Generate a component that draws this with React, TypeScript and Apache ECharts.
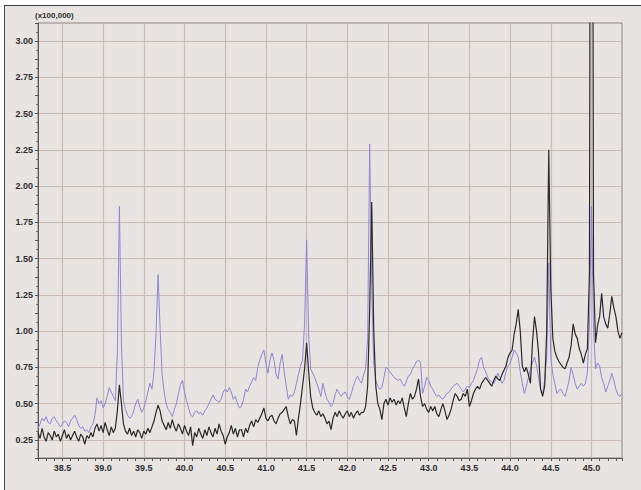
import React, { useEffect, useRef } from "react";
import * as echarts from "echarts";

// Sampling grid of the spectrum (x positions, minutes)
const X_START = 38.2;
const X_STEP = 0.025;

// Axis ranges and tick settings
const X_MIN = 38.2;
const X_MAX = 45.375;
const X_TICK = 0.1;
const X_LABEL_EVERY = 0.5;
const Y_MIN = 0.125;
const Y_MAX = 3.125;
const Y_TICK = 0.125;
const Y_LABEL_EVERY = 0.25;
const Y_UNIT_LABEL = "(x100,000)";

// Purple trace (values in units of 100,000), one value per 0.025 step from 38.2
const purple = [
  0.33, 0.36, 0.40, 0.38, 0.41, 0.37, 0.36, 0.40, 0.41, 0.38, 0.36, 0.34, 0.36, 0.38, 0.37, 0.34, 0.38, 0.40, 0.42, 0.39,
  0.35, 0.33, 0.34, 0.31, 0.32, 0.30, 0.34, 0.36, 0.42, 0.54, 0.50, 0.52, 0.47, 0.50, 0.55, 0.61, 0.58, 0.55, 0.52, 0.85,
  1.86, 0.92, 0.52, 0.46, 0.42, 0.40, 0.41, 0.45, 0.50, 0.53, 0.48, 0.44, 0.47, 0.52, 0.58, 0.64, 0.60, 0.72, 0.98, 1.39,
  1.02, 0.70, 0.58, 0.50, 0.46, 0.44, 0.41, 0.46, 0.50, 0.57, 0.63, 0.66, 0.58, 0.52, 0.47, 0.42, 0.41, 0.44, 0.45, 0.43,
  0.44, 0.42, 0.45, 0.47, 0.50, 0.53, 0.56, 0.53, 0.52, 0.51, 0.53, 0.58, 0.60, 0.58, 0.61, 0.58, 0.53, 0.55, 0.50, 0.47,
  0.48, 0.53, 0.60, 0.58, 0.62, 0.65, 0.68, 0.66, 0.75, 0.80, 0.84, 0.87, 0.78, 0.71, 0.80, 0.85, 0.80, 0.70, 0.67, 0.78,
  0.84, 0.72, 0.62, 0.53, 0.56, 0.55, 0.58, 0.64, 0.70, 0.76, 0.80, 1.05, 1.63, 0.98, 0.74, 0.71, 0.68, 0.64, 0.60, 0.55,
  0.64, 0.58, 0.53, 0.51, 0.48, 0.50, 0.56, 0.60, 0.57, 0.55, 0.57, 0.58, 0.55, 0.53, 0.57, 0.62, 0.66, 0.69, 0.66, 0.64,
  0.70, 0.74, 0.95, 2.29, 1.30, 0.78, 0.66, 0.62, 0.60, 0.61, 0.68, 0.75, 0.74, 0.72, 0.70, 0.68, 0.67, 0.66, 0.67, 0.64,
  0.62, 0.65, 0.69, 0.70, 0.74, 0.76, 0.79, 0.80, 0.78, 0.57, 0.62, 0.68, 0.66, 0.62, 0.60, 0.57, 0.55, 0.56, 0.54, 0.53,
  0.55, 0.57, 0.58, 0.60, 0.62, 0.63, 0.64, 0.62, 0.60, 0.58, 0.60, 0.62, 0.61, 0.64, 0.66, 0.70, 0.74, 0.80, 0.82, 0.75,
  0.72, 0.68, 0.66, 0.65, 0.64, 0.67, 0.71, 0.68, 0.64, 0.66, 0.72, 0.76, 0.78, 0.82, 0.87, 0.85, 0.82, 0.72, 0.64, 0.57,
  0.62, 0.68, 0.74, 0.78, 0.82, 0.76, 0.68, 0.60, 0.57, 0.66, 0.82, 1.47, 0.82, 0.70, 0.64, 0.57, 0.59, 0.60, 0.57, 0.55,
  0.60, 0.66, 0.75, 0.70, 0.64, 0.60, 0.62, 0.64, 0.62, 0.64, 0.72, 1.05, 1.86, 1.02, 0.74, 0.78, 0.76, 0.68, 0.64, 0.58,
  0.62, 0.66, 0.71, 0.66, 0.60, 0.56, 0.55, 0.57,
];

// Black trace (values in units of 100,000); the 45.0 peak runs off the top of the plot
const black = [
  0.30, 0.26, 0.33, 0.27, 0.24, 0.30, 0.28, 0.25, 0.31, 0.27, 0.29, 0.24, 0.28, 0.32, 0.26, 0.29, 0.25, 0.28, 0.31, 0.27,
  0.24, 0.29, 0.27, 0.22, 0.28, 0.26, 0.30, 0.27, 0.33, 0.36, 0.31, 0.35, 0.30, 0.37, 0.32, 0.28, 0.34, 0.30, 0.33, 0.45,
  0.63, 0.50, 0.36, 0.31, 0.29, 0.33, 0.28, 0.31, 0.27, 0.32, 0.30, 0.26, 0.31, 0.29, 0.33, 0.30, 0.34, 0.38, 0.44, 0.49,
  0.45, 0.38, 0.35, 0.32, 0.37, 0.33, 0.39, 0.34, 0.31, 0.36, 0.33, 0.29, 0.35, 0.31, 0.28, 0.34, 0.21, 0.30, 0.27, 0.33,
  0.29, 0.26, 0.32, 0.28, 0.34, 0.30, 0.27, 0.33, 0.29, 0.36, 0.31, 0.28, 0.22, 0.27, 0.30, 0.35, 0.29, 0.33, 0.27, 0.32,
  0.32, 0.27, 0.33, 0.30, 0.35, 0.38, 0.34, 0.39, 0.37, 0.40, 0.43, 0.47, 0.40, 0.38, 0.41, 0.42, 0.38, 0.36, 0.40, 0.43,
  0.44, 0.46, 0.48, 0.41, 0.36, 0.39, 0.38, 0.28, 0.40, 0.50, 0.62, 0.74, 0.92, 0.72, 0.55, 0.47, 0.44, 0.42, 0.45, 0.41,
  0.43, 0.40, 0.36, 0.38, 0.32, 0.40, 0.44, 0.41, 0.45, 0.42, 0.40, 0.43, 0.45, 0.41, 0.44, 0.40, 0.43, 0.45, 0.42, 0.44,
  0.44, 0.48, 0.62, 1.15, 1.89, 1.00, 0.62, 0.50, 0.46, 0.39, 0.50, 0.53, 0.49, 0.54, 0.51, 0.53, 0.49, 0.52, 0.50, 0.54,
  0.47, 0.41, 0.50, 0.57, 0.53, 0.55, 0.60, 0.67, 0.55, 0.48, 0.50, 0.46, 0.44, 0.48, 0.45, 0.48, 0.43, 0.41, 0.46, 0.50,
  0.45, 0.39, 0.42, 0.46, 0.52, 0.57, 0.55, 0.52, 0.53, 0.57, 0.55, 0.60, 0.48, 0.52, 0.57, 0.60, 0.62, 0.60, 0.64, 0.66,
  0.68, 0.66, 0.64, 0.62, 0.66, 0.69, 0.67, 0.66, 0.70, 0.73, 0.76, 0.82, 0.85, 0.87, 0.98, 1.05, 1.15, 1.00, 0.76, 0.72,
  0.75, 0.70, 0.64, 0.92, 1.10, 1.00, 0.85, 0.60, 0.55, 0.62, 1.00, 2.25, 1.30, 0.95, 0.86, 0.82, 0.79, 0.77, 0.75, 0.74,
  0.78, 0.82, 0.90, 1.05, 0.98, 0.95, 0.88, 0.84, 0.78, 0.84, 0.88, 1.40, 9.00, 1.40, 0.92, 1.04, 1.10, 1.26, 1.10, 1.05,
  1.02, 1.12, 1.24, 1.16, 1.10, 1.00, 0.95, 0.99,
];

const toPairs = (vals: number[]) =>
  vals.map((v, i) => [Number((X_START + i * X_STEP).toFixed(3)), v]);

const isMultiple = (v: number, step: number) => {
  const r = v / step;
  return Math.abs(r - Math.round(r)) < 1e-6;
};

const GRID_COLOR = "#c9bbb6";
const AXIS_COLOR = "#5a5555";
const LABEL_COLOR = "#2e2e2e";
const FONT = "'Liberation Sans', Arial, sans-serif";

export default function App() {
  const ref = useRef<HTMLDivElement>(null);

  useEffect(() => {
    if (!ref.current) return;
    const chart = echarts.init(ref.current, undefined, { renderer: "svg" });

    // split line colours: visible only on the labelled ticks
    const xPeriod = Math.round(X_LABEL_EVERY / X_TICK);
    const xOffset = Math.round((Math.ceil(X_MIN / X_LABEL_EVERY) * X_LABEL_EVERY - X_MIN) / X_TICK);
    const xColors = Array.from({ length: xPeriod }, (_, k) => (k === xOffset % xPeriod ? GRID_COLOR : "rgba(0,0,0,0)"));
    const yPeriod = Math.round(Y_LABEL_EVERY / Y_TICK);
    const yOffset = Math.round((Math.ceil(Y_MIN / Y_LABEL_EVERY) * Y_LABEL_EVERY - Y_MIN) / Y_TICK);
    const yColors = Array.from({ length: yPeriod }, (_, k) => (k === yOffset % yPeriod ? GRID_COLOR : "rgba(0,0,0,0)"));

    chart.setOption({
      animation: false,
      backgroundColor: "transparent",
      grid: {
        left: 38,
        right: 19,
        top: 23,
        bottom: 32,
        show: true,
        borderColor: "#8d8481",
        borderWidth: 1,
        backgroundColor: "transparent",
      },
      xAxis: {
        type: "value",
        min: X_MIN,
        max: X_MAX,
        interval: X_TICK,
        axisLine: { show: true, onZero: false, lineStyle: { color: AXIS_COLOR, width: 1 } },
        axisTick: { show: true, length: 3, lineStyle: { color: AXIS_COLOR } },
        axisLabel: {
          margin: 5,
          color: LABEL_COLOR,
          fontSize: 9,
          fontWeight: "bold",
          fontFamily: FONT,
          formatter: (v: number) => {
            if (!isMultiple(v, X_LABEL_EVERY) || v > X_MAX - 0.05) return "";
            return (Math.round(v * 10) / 10).toFixed(1);
          },
        },
        splitLine: { show: true, lineStyle: { color: xColors, width: 1.2 } },
      },
      yAxis: {
        type: "value",
        min: Y_MIN,
        max: Y_MAX,
        interval: Y_TICK,
        axisLine: { show: true, onZero: false, lineStyle: { color: AXIS_COLOR, width: 1 } },
        axisTick: { show: true, length: 3, lineStyle: { color: AXIS_COLOR } },
        minorTick: { show: true, splitNumber: 2, length: 2, lineStyle: { color: "#7a7371" } },
        axisLabel: {
          margin: 5,
          color: LABEL_COLOR,
          fontSize: 9,
          fontWeight: "bold",
          fontFamily: FONT,
          formatter: (v: number) => {
            if (!isMultiple(v, Y_LABEL_EVERY) || v < 0.2 || v > 3.05) return "";
            return v.toFixed(2);
          },
        },
        splitLine: { show: true, lineStyle: { color: yColors, width: 1.2 } },
      },
      graphic: [
        {
          type: "text",
          left: 35,
          top: 11,
          style: {
            text: Y_UNIT_LABEL,
            fill: LABEL_COLOR,
            font: `bold 8px ${FONT}`,
          },
        },
      ],
      series: [
        {
          name: "purple",
          type: "line",
          data: toPairs(purple),
          showSymbol: false,
          clip: true,
          lineStyle: { color: "#8f85d4", width: 1 },
          z: 2,
        },
        {
          name: "black",
          type: "line",
          data: toPairs(black),
          showSymbol: false,
          clip: true,
          lineStyle: { color: "#2a2a2a", width: 1.2 },
          z: 3,
        },
      ],
    });

    return () => chart.dispose();
  }, []);

  return (
    <div
      style={{
        position: "fixed",
        left: 0,
        top: 0,
        width: 641,
        height: 490,
        background: "#ffffff",
        overflow: "hidden",
      }}
    >
      <div
        style={{
          position: "absolute",
          left: 4,
          top: 5,
          right: 0,
          bottom: 0,
          background: "#e8e4e2",
          borderTop: "1.5px solid #3a3a3a",
          borderLeft: "1.5px solid #4a4a4a",
        }}
      />
      <div ref={ref} style={{ position: "absolute", left: 0, top: 0, width: 641, height: 490 }} />
    </div>
  );
}
